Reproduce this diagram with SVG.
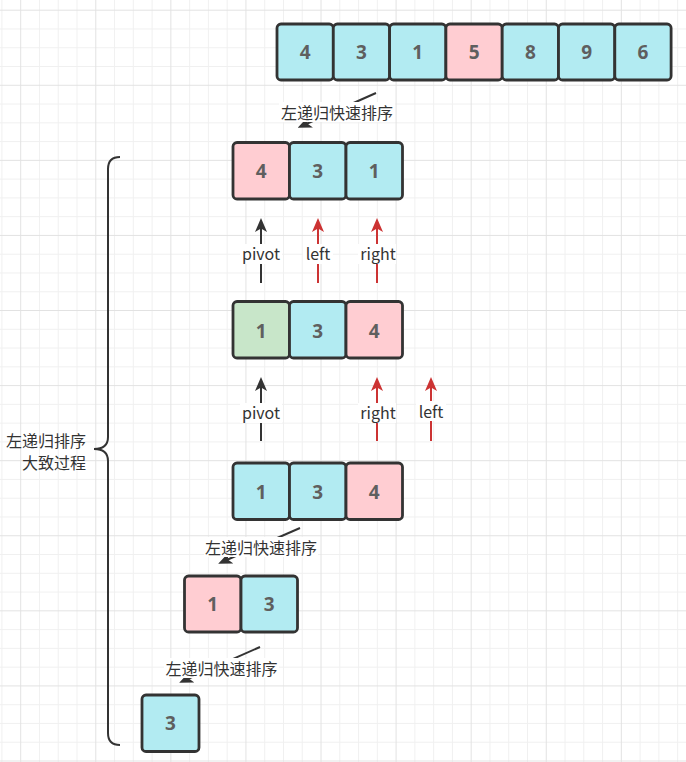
<svg xmlns="http://www.w3.org/2000/svg" width="686" height="762" viewBox="0 0 686 762">
<defs>
  <pattern id="grid" patternUnits="userSpaceOnUse" x="20.2" y="9.7" width="75.08" height="75.08">
    <path d="M19.27,0V75.08M38.04,0V75.08M56.81,0V75.08M0,19.27H75.08M0,38.04H75.08M0,56.81H75.08" stroke="#f0f0f0" stroke-width="1" fill="none"/>
    <path d="M0.5,0V75.08M0,0.5H75.08" stroke="#e2e2e2" stroke-width="1" fill="none"/>
  </pattern>
  <marker id="ah-dark" viewBox="0 0 14 12" refX="6" refY="6" markerWidth="14" markerHeight="12" markerUnits="userSpaceOnUse" orient="auto">
    <path d="M0,0 L14,6 L0,12 L3.5,6 Z" fill="#333333"/>
  </marker>
  <marker id="ah-red" viewBox="0 0 14 12" refX="6" refY="6" markerWidth="14" markerHeight="12" markerUnits="userSpaceOnUse" orient="auto">
    <path d="M0,0 L14,6 L0,12 L3.5,6 Z" fill="#cc3333"/>
  </marker>
</defs>
<style>
  .box { stroke: #333333; stroke-width: 2.8; }
  .c { fill: #b2ebf2; }
  .p { fill: #ffcdd2; }
  .g { fill: #c8e6c9; }
  .num { font-family: "Noto Sans", "Liberation Sans", sans-serif; font-weight: bold; font-size: 19px; fill: #5f5f5f; text-anchor: middle; dominant-baseline: central; }
  .lbl { font-family: "Noto Sans CJK SC", "Noto Sans", sans-serif; font-size: 16px; fill: #333333; text-anchor: middle; dominant-baseline: central; }
  .lbg { fill: #ffffff; }
  .dk { stroke: #333333; stroke-width: 2; fill: none; }
  .rd { stroke: #cc3333; stroke-width: 2; fill: none; }
</style>
<rect width="686" height="762" fill="#ffffff"/>
<rect width="686" height="762" fill="url(#grid)"/>

<g id="array-top">
  <rect class="box c" x="277" y="24" width="56.3" height="56" rx="4"/><text class="num" x="305.2" y="52">4</text>
  <rect class="box c" x="333.3" y="24" width="56.3" height="56" rx="4"/><text class="num" x="361.5" y="52">3</text>
  <rect class="box c" x="389.6" y="24" width="56.3" height="56" rx="4"/><text class="num" x="417.8" y="52">1</text>
  <rect class="box p" x="445.9" y="24" width="56.3" height="56" rx="4"/><text class="num" x="474.1" y="52">5</text>
  <rect class="box c" x="502.2" y="24" width="56.3" height="56" rx="4"/><text class="num" x="530.4" y="52">8</text>
  <rect class="box c" x="558.5" y="24" width="56.3" height="56" rx="4"/><text class="num" x="586.7" y="52">9</text>
  <rect class="box c" x="614.8" y="24" width="56.3" height="56" rx="4"/><text class="num" x="643" y="52">6</text>
</g>

<g id="array-2">
  <rect class="box p" x="233" y="142.5" width="56.5" height="56.5" rx="4"/><text class="num" x="261.3" y="171">4</text>
  <rect class="box c" x="289.5" y="142.5" width="56.5" height="56.5" rx="4"/><text class="num" x="317.8" y="171">3</text>
  <rect class="box c" x="346" y="142.5" width="56.5" height="56.5" rx="4"/><text class="num" x="374.3" y="171">1</text>
</g>

<g id="array-3">
  <rect class="box g" x="233" y="301.5" width="56.5" height="56.5" rx="4"/><text class="num" x="261.3" y="330.5">1</text>
  <rect class="box c" x="289.5" y="301.5" width="56.5" height="56.5" rx="4"/><text class="num" x="317.8" y="330.5">3</text>
  <rect class="box p" x="346" y="301.5" width="56.5" height="56.5" rx="4"/><text class="num" x="374.3" y="330.5">4</text>
</g>

<g id="array-4">
  <rect class="box c" x="233" y="463" width="56.5" height="56.5" rx="4"/><text class="num" x="261.3" y="491.5">1</text>
  <rect class="box c" x="289.5" y="463" width="56.5" height="56.5" rx="4"/><text class="num" x="317.8" y="491.5">3</text>
  <rect class="box p" x="346" y="463" width="56.5" height="56.5" rx="4"/><text class="num" x="374.3" y="491.5">4</text>
</g>

<g id="array-5">
  <rect class="box p" x="184.5" y="576" width="56.5" height="56" rx="4"/><text class="num" x="212.8" y="604">1</text>
  <rect class="box c" x="241" y="576" width="56.5" height="56" rx="4"/><text class="num" x="269.3" y="604">3</text>
</g>

<g id="array-6">
  <rect class="box c" x="142" y="695" width="57" height="56.5" rx="4"/><text class="num" x="170.5" y="723.3">3</text>
</g>

<g id="connectors">
  <line class="dk" x1="376" y1="93" x2="305" y2="124.5" marker-end="url(#ah-dark)"/>
  <line class="dk" x1="300" y1="528" x2="225.5" y2="560.5" marker-end="url(#ah-dark)"/>
  <line class="dk" x1="260" y1="647" x2="186.5" y2="679.5" marker-end="url(#ah-dark)"/>

  <line class="dk" x1="261" y1="283" x2="261" y2="226" marker-end="url(#ah-dark)"/>
  <line class="rd" x1="318" y1="283" x2="318" y2="226" marker-end="url(#ah-red)"/>
  <line class="rd" x1="377" y1="283" x2="377" y2="226" marker-end="url(#ah-red)"/>

  <line class="dk" x1="261" y1="441" x2="261" y2="385" marker-end="url(#ah-dark)"/>
  <line class="rd" x1="377" y1="441" x2="377" y2="385" marker-end="url(#ah-red)"/>
  <line class="rd" x1="431" y1="441" x2="431" y2="385" marker-end="url(#ah-red)"/>

  <path class="dk" d="M120,157 Q108,157 108,169 L108,437 Q108,449 94,449 Q108,449 108,461 L108,733 Q108,745 120,745"/>
</g>

<g id="labels">
  <rect class="lbg" x="279" y="102" width="116" height="20"/>
  <text class="lbl" x="337" y="112">左递归快速排序</text>
  <rect class="lbg" x="204" y="537" width="114" height="20"/>
  <text class="lbl" x="261" y="546.5">左递归快速排序</text>
  <rect class="lbg" x="164" y="658" width="115" height="20"/>
  <text class="lbl" x="221.5" y="667.5">左递归快速排序</text>

  <rect class="lbg" x="240" y="244" width="42" height="20"/>
  <text class="lbl" x="261" y="253">pivot</text>
  <rect class="lbg" x="303" y="244" width="30" height="20"/>
  <text class="lbl" x="318" y="253">left</text>
  <rect class="lbg" x="358" y="244" width="38" height="20"/>
  <text class="lbl" x="378" y="253">right</text>

  <rect class="lbg" x="240" y="403" width="42" height="20"/>
  <text class="lbl" x="261" y="412">pivot</text>
  <rect class="lbg" x="358" y="403" width="38" height="20"/>
  <text class="lbl" x="378" y="412">right</text>
  <rect class="lbg" x="416" y="401" width="30" height="20"/>
  <text class="lbl" x="431" y="410.5">left</text>

  <text class="lbl" x="86" y="440" style="text-anchor:end">左递归排序</text>
  <text class="lbl" x="86" y="462" style="text-anchor:end">大致过程</text>
</g>
</svg>
